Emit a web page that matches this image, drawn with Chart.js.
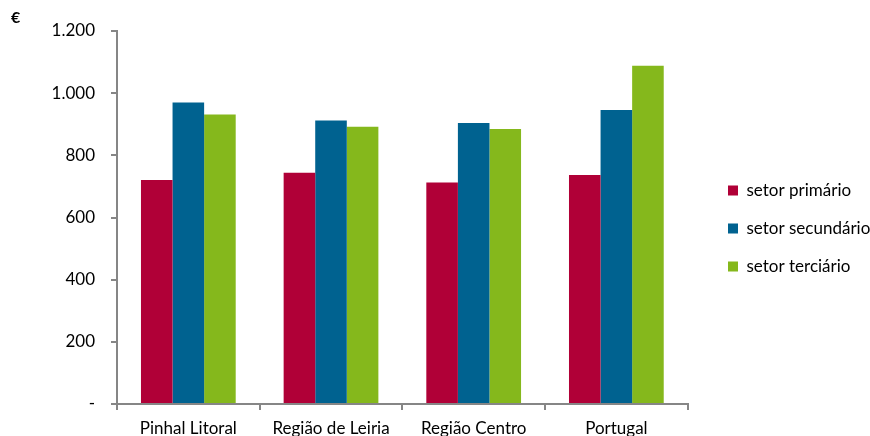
<!DOCTYPE html>
<html>
<head>
<meta charset="utf-8">
<script src="https://cdn.jsdelivr.net/npm/chart.js@4"></script>
<style>
  html, body { margin: 0; padding: 0; background: #fff; }
  #wrap { width: 870px; height: 436px; }
</style>
</head>
<body>
<div id="wrap"><canvas id="chart" width="870" height="436"></canvas></div>
<script>
const categories = ["Pinhal Litoral", "Região de Leiria", "Região Centro", "Portugal"];
const seriesNames = ["setor primário", "setor secundário", "setor terciário"];
const primario = [721, 744, 713, 737];
const secundario = [970, 912, 904, 946];
const terciario = [931, 892, 885, 1088];
const colors = ["#B00037", "#006290", "#85B81C"];

const FONT = "Lato";

// "€" unit label in the top-left corner
const unitLabel = {
  id: "unitLabel",
  afterDraw(chart) {
    const ctx = chart.ctx;
    ctx.save();
    ctx.font = "bold 16px " + FONT;
    ctx.fillStyle = "#000";
    ctx.textBaseline = "middle";
    ctx.fillText("€", 11, 18);
    ctx.restore();
  },
};

// place legend where the original has it
const legendPlace = {
  id: "legendPlace",
  afterLayout(chart) {
    const lg = chart.legend;
    const pad = lg.options.labels.padding;
    const w = lg.right - lg.left;
    lg.left = 728 - pad;
    lg.right = lg.left + w;
    lg.top -= 5;
    lg.bottom -= 5;
  },
};

new Chart(document.getElementById("chart"), {
  type: "bar",
  data: {
    labels: categories,
    datasets: [primario, secundario, terciario].map((d, i) => ({
      label: seriesNames[i],
      data: d,
      backgroundColor: colors[i],
      borderWidth: 0,
      categoryPercentage: 0.664,
      barPercentage: 1,
    })),
  },
  options: {
    responsive: false,
    animation: false,
    layout: { padding: { top: 31, right: 9, bottom: 0, left: 0 } },
    plugins: {
      tooltip: { enabled: false },
      legend: {
        position: "right",
        labels: {
          boxWidth: 10,
          boxHeight: 10,
          padding: 21,
          color: "#000",
          font: { family: FONT, size: 17 },
        },
      },
    },
    scales: {
      x: {
        grid: {
          offset: true,
          drawOnChartArea: false,
          tickLength: 6,
          color: "#868686",
          lineWidth: 2,
        },
        border: { color: "#868686", width: 2 },
        ticks: { color: "#000", padding: 8, font: { family: FONT, size: 17 } },
        afterFit(s) { s.height = 32; },
      },
      y: {
        min: 0,
        max: 1200,
        grid: {
          drawOnChartArea: false,
          tickLength: 6,
          color: "#868686",
          lineWidth: 2,
        },
        border: { color: "#868686", width: 2 },
        ticks: {
          stepSize: 200,
          color: "#000",
          padding: 16,
          font: { family: FONT, size: 17 },
          callback: (v) => (v === 0 ? "-" : v.toLocaleString("de-DE")),
        },
        afterFit(s) { s.width = 117; },
      },
    },
  },
  plugins: [unitLabel, legendPlace],
});
</script>
</body>
</html>
